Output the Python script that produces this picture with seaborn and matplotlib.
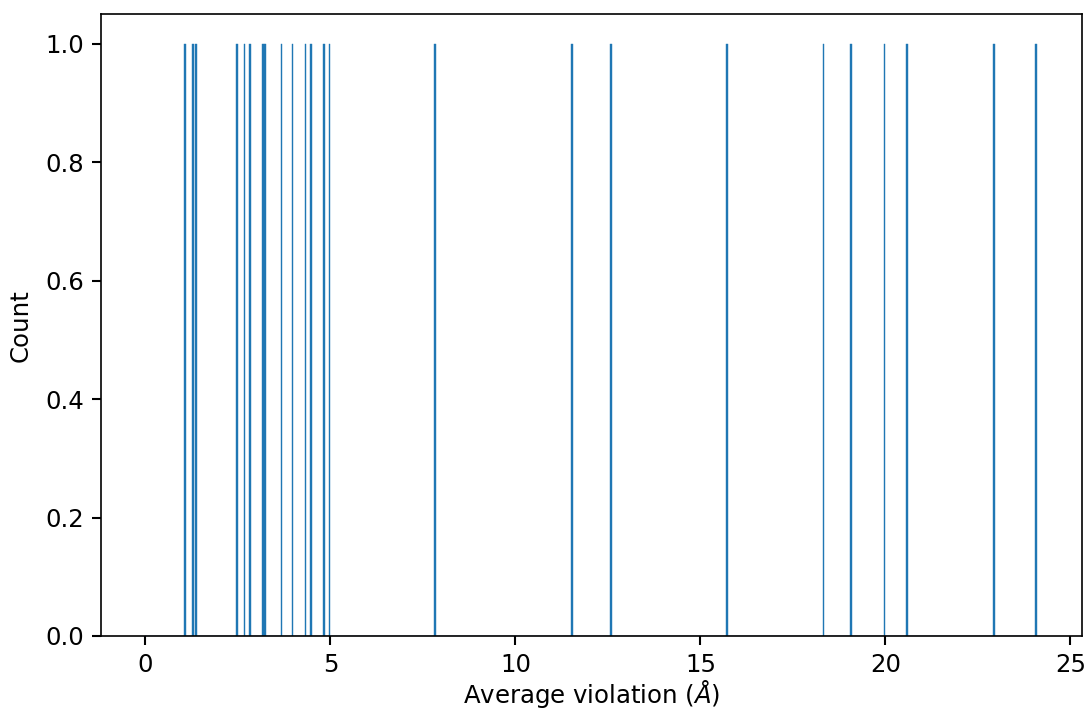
import matplotlib
matplotlib.use("Agg")
import matplotlib.pyplot as plt
import seaborn as sns

# average violation per structure (one count each)
violations = [1.09, 1.28, 1.38, 2.49, 2.68, 2.82, 3.17, 3.22, 3.68, 3.98,
              4.33, 4.46, 4.82, 4.99, 7.82, 11.50, 12.55, 15.74, 18.34,
              19.09, 19.99, 20.58, 22.92, 24.07]

plt.rcParams['font.family'] = ['DejaVu Sans']
fig, ax = plt.subplots(figsize=(1085/150, 713/150), dpi=150)

sns.histplot(x=violations, binwidth=0.05, binrange=(0, 24.1),
             color="#1f77b4", alpha=1, edgecolor="#1f77b4", linewidth=0.2,
             ax=ax)

ax.set_xlabel(r"Average violation ($Å$)", fontsize=11.7, labelpad=0.5)
ax.set_ylabel("Count", fontsize=11.7, labelpad=6)
ax.tick_params(labelsize=11.7, width=1.0, length=4.5)

fig.subplots_adjust(left=0.093, right=0.997, top=0.98, bottom=0.108)
fig.savefig("out.png", dpi=150)
